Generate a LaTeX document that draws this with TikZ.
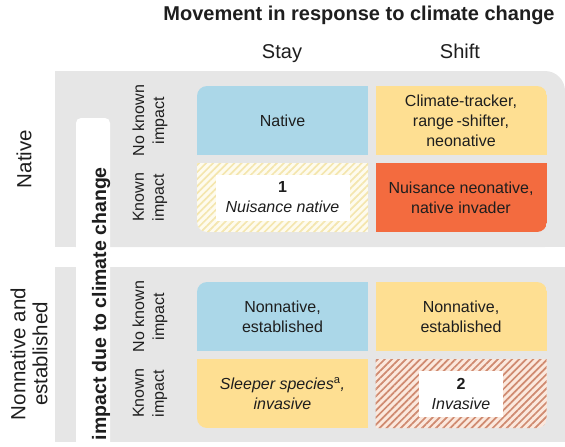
\documentclass[tikz,border=0pt]{standalone}
\usepackage{fontspec}
\setmainfont{Liberation Sans}
\usetikzlibrary{patterns.meta}
\definecolor{panelgray}{HTML}{E6E6E6}
\definecolor{cellblue}{HTML}{ABD7E8}
\definecolor{cellyellow}{HTML}{FEDF92}
\definecolor{cellred}{HTML}{F36B3F}
\definecolor{hatchyellow}{HTML}{F4E6AE}
\definecolor{hatchyellowbg}{HTML}{FEFBEE}
\definecolor{hatchred}{HTML}{CF8A70}
\definecolor{hatchredbg}{HTML}{FBE8DD}
\definecolor{ink}{HTML}{1E1E1E}
\begin{document}
\begin{tikzpicture}[x=1pt,y=-1pt,
  cell/.style={minimum width=171pt, minimum height=69pt, inner sep=0pt, align=center, text=ink, font=\fontsize{16}{20}\selectfont},
  rowlab/.style={rotate=90, align=center, text=ink, font=\fontsize{16}{20}\selectfont},
  collab/.style={anchor=base, text=ink, font=\fontsize{20}{24}\selectfont},
  grouplab/.style={rotate=90, align=center, text=ink, font=\fontsize{20.5}{22}\selectfont},
  tag/.style={fill=white, inner sep=0pt, align=center, text=ink, font=\fontsize{16}{20}\selectfont},
  hatch/.style 2 args={preaction={fill=#2}, pattern={Lines[angle=45,distance=5pt,line width=1.7pt]}, pattern color=#1}]
\useasboundingbox (0,0) rectangle (565,447);
\clip (0,0) rectangle (565,447);
% grey panels
\fill[panelgray, rounded corners=20pt] (55,71) rectangle (565,247);
\fill[panelgray] (55,71) rectangle (300,247);
\fill[panelgray] (55,150) rectangle (565,247);
\fill[panelgray] (55,267) rectangle (565,442);
\fill[white, rounded corners=5pt] (76,118) rectangle (110,460);
% headings
\node[anchor=base, text=ink, font=\bfseries\fontsize{20}{24}\selectfont] (title) at (359,20) {Movement in response to climate change};
\node[collab] (stay) at (282,58) {Stay};
\node[collab] (shift) at (460,58) {Shift};
\node[grouplab] (native) at (24,159) {Native};
\node[grouplab] (nonnative) at (29,354) {Nonnative and\\established};
\node[rotate=90, anchor=base east, inner sep=0pt, text=ink, font=\bfseries\fontsize{19.5}{24}\selectfont] (impact) at (106,167) {impact due to climate change};
\node[rowlab] (nk1) at (150,120.5) {No known\\impact};
\node[rowlab] (k1) at (150,197.5) {Known\\impact};
\node[rowlab] (nk2) at (150,316.5) {No known\\impact};
\node[rowlab] (k2) at (150,393.5) {Known\\impact};
% native block
\begin{scope}
\clip[rounded corners=10pt] (197,86) rectangle (547,232);
\node[cell, fill=cellblue] (natstay) at (282.5,120.5) {Native};
\node[cell, fill=cellyellow] (natshift) at (461,120.5) {Climate-tracker,\\range\,-shifter,\\neonative};
\node[cell, hatch={hatchyellow}{hatchyellowbg}] (nuisstay) at (282.5,197.5) {};
\node[cell, fill=cellred] (nuisshift) at (461,197.5) {Nuisance neonative,\\native invader};
\end{scope}
\node[tag, minimum width=134pt, minimum height=46pt] (tag1) at (nuisstay.center) {\textbf{1}\\\textit{Nuisance native}};
% nonnative block
\begin{scope}
\clip[rounded corners=10pt] (197,282) rectangle (547,428);
\node[cell, fill=cellblue] (estay) at (282.5,316.5) {Nonnative,\\established};
\node[cell, fill=cellyellow] (eshift) at (461,316.5) {Nonnative,\\established};
\node[cell, fill=cellyellow] (sleeper) at (282.5,393.5) {\textit{Sleeper species}\textsuperscript{a}\textit{,}\\\textit{invasive}};
\node[cell, hatch={hatchred}{hatchredbg}] (invshift) at (461,393.5) {};
\end{scope}
\node[tag, minimum width=84pt, minimum height=46pt] (tag2) at (invshift.center) {\textbf{2}\\\textit{Invasive}};
\end{tikzpicture}
\end{document}
